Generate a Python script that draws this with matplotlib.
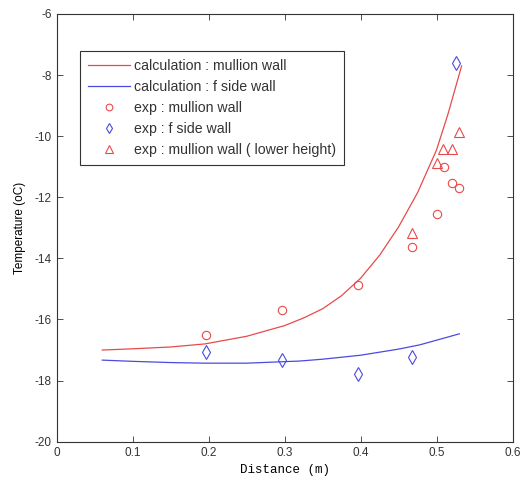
import matplotlib
matplotlib.use("Agg")
import matplotlib.pyplot as plt

# calculation curves
calc_x_mullion = [0.06, 0.10, 0.15, 0.195, 0.25, 0.30, 0.325, 0.35, 0.375, 0.40, 0.425, 0.45, 0.475, 0.50, 0.515, 0.533]
calc_y_mullion = [-17.00, -16.96, -16.90, -16.80, -16.55, -16.20, -15.95, -15.65, -15.22, -14.65, -13.90, -12.97, -11.85, -10.45, -9.28, -7.70]

calc_x_fside = [0.06, 0.10, 0.15, 0.195, 0.25, 0.30, 0.32, 0.35, 0.40, 0.45, 0.478, 0.53]
calc_y_fside = [-17.33, -17.37, -17.41, -17.43, -17.43, -17.38, -17.36, -17.30, -17.17, -16.97, -16.83, -16.47]

# experimental points
exp_x_mullion = [0.197, 0.297, 0.397, 0.468, 0.500, 0.510, 0.520, 0.530]
exp_y_mullion = [-16.50, -15.68, -14.86, -13.62, -12.54, -11.00, -11.53, -11.69]

exp_x_fside = [0.197, 0.297, 0.397, 0.468, 0.525]
exp_y_fside = [-17.06, -17.32, -17.78, -17.22, -7.60]

exp_x_lower = [0.468, 0.500, 0.508, 0.520, 0.530]
exp_y_lower = [-13.16, -10.87, -10.42, -10.42, -9.86]

xticks = [0, 0.1, 0.2, 0.3, 0.4, 0.5, 0.6]
xtick_labels = ["0", "0.1", "0.2", "0.3", "0.4", "0.5", "0.6"]
yticks = [-20, -18, -16, -14, -12, -10, -8, -6]
ytick_labels = ["-20", "-18", "-16", "-14", "-12", "-10", "-8", "-6"]

red = "#e84a4a"
blue = "#4a4ae0"

plt.rcParams['font.family'] = ['Liberation Sans', 'DejaVu Sans']

fig = plt.figure(figsize=(5.27, 4.79), dpi=100)
ax = fig.add_axes([0.1076, 0.0779, 0.8649, 0.8929])

ax.plot(calc_x_mullion, calc_y_mullion, color=red, lw=0.9, label="calculation : mullion wall")
ax.plot(calc_x_fside, calc_y_fside, color=blue, lw=0.9, label="calculation : f side wall")
ax.plot(exp_x_mullion, exp_y_mullion, 'o', mfc='none', mec=red, ms=6, mew=0.8, label="exp : mullion wall")
ax.plot(exp_x_fside, exp_y_fside, 'd', mfc='none', mec=blue, ms=7, mew=0.8, label="exp : f side wall")
ax.plot(exp_x_lower, exp_y_lower, '^', mfc='none', mec=red, ms=7, mew=0.8, label="exp : mullion wall ( lower height)")

ax.set_xlim(0, 0.6)
ax.set_ylim(-20, -6)
ax.set_xticks(xticks)
ax.set_xticklabels(xtick_labels)
ax.set_yticks(yticks)
ax.set_yticklabels(ytick_labels)
ax.tick_params(direction='in', top=True, right=True, length=4, width=0.6, labelsize=8.5, colors='#333333')
for s in ax.spines.values():
    s.set_linewidth(0.8)
    s.set_color('#333333')

ax.set_xlabel("Distance (m)", family=['Liberation Mono', 'DejaVu Sans Mono'], fontsize=9, labelpad=4)
ax.set_ylabel("Temperature (oC)", fontsize=8.5, labelpad=6)

leg = ax.legend(loc='upper left', bbox_to_anchor=(0.051, 0.913), fontsize=10.2, frameon=True,
                fancybox=False, framealpha=1, edgecolor='#333333', handlelength=3.0,
                borderpad=0.55, labelspacing=0.5, handletextpad=0.27, borderaxespad=0,
                markerscale=0.8)
leg.get_frame().set_linewidth(0.8)
for t in leg.get_texts():
    t.set_color('#333333')

fig.savefig("out.png", dpi=100)
